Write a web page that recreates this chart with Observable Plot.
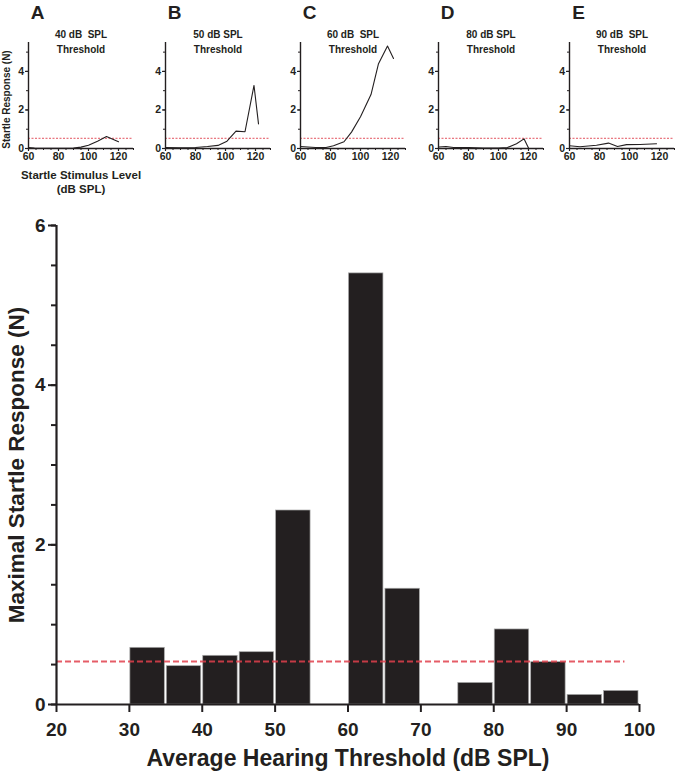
<!DOCTYPE html>
<html><head><meta charset="utf-8">
<script src="https://cdn.jsdelivr.net/npm/d3@7"></script>
<script src="https://cdn.jsdelivr.net/npm/@observablehq/plot@0.6"></script>
<style>
html,body{margin:0;padding:0;background:#fff;}
#wrap{position:relative;width:676px;height:775px;overflow:hidden;}
#wrap svg{position:absolute;overflow:visible;}
#wrap text{white-space:pre;}
</style></head><body><div id="wrap"></div>
<script>
// ---------- DATA ----------
// Main chart: bins of average hearing threshold (dB SPL), 5 dB wide
const binStart = [30, 35, 40, 45, 50, 60, 65, 75, 80, 85, 90, 95];
const binEnd   = [35, 40, 45, 50, 55, 65, 70, 80, 85, 90, 95, 100];
const maxResponse = [0.71, 0.48, 0.61, 0.655, 2.43, 5.4, 1.45, 0.27, 0.94, 0.53, 0.12, 0.17];
const mainThreshold = [0.54];
const mainThresholdFrom = 20, mainThresholdTo = 98;
const mainXDomain = [20, 100];
const mainYDomain = [0, 6];
const mainXTicks = [20, 30, 40, 50, 60, 70, 80, 90, 100];
const mainYTicks = [0, 2, 4, 6];
const mainYMinorTicks = [0, 0.5, 1, 1.5, 2, 2.5, 3, 3.5, 4, 4.5, 5, 5.5, 6];
const mainXTitle = "Average Hearing Threshold (dB SPL)";
const mainYTitle = "Maximal Startle Response (N)";

// Small panels: startle response (N) vs startle stimulus level (dB SPL)
const panelLetters = ["A", "B", "C", "D", "E"];
const panelTitles = ["40 dB  SPL\nThreshold", "50 dB SPL\nThreshold", "60 dB  SPL\nThreshold", "80 dB SPL\nThreshold", "90 dB  SPL\nThreshold"];
const panelA = [[60,0.05],[64,0.02],[70,0.01],[80,0.01],[90,0.02],[95,0.07],[100,0.17],[106,0.38],[112,0.62],[120,0.35]];
const panelB = [[60,0.05],[70,0.04],[80,0.05],[88,0.1],[95,0.16],[101,0.38],[107,0.9],[113,0.87],[119,3.27],[122,1.28]];
const panelC = [[60,0.1],[65,0.08],[70,0.05],[77,0.05],[82,0.14],[89,0.35],[94,0.85],[100,1.65],[107,2.8],[112,4.4],[118,5.32],[122,4.67]];
const panelD = [[60,0.08],[65,0.1],[70,0.05],[80,0.05],[90,0.02],[100,0.02],[106,0.05],[112,0.25],[117,0.5],[120,0.02]];
const panelE = [[60,0.14],[67,0.09],[78,0.17],[86,0.28],[92,0.1],[98,0.2],[107,0.21],[118,0.25]];
const panelSeries = [panelA, panelB, panelC, panelD, panelE];
const smallThreshold = [0.53];
const smallXDomain = [60, 130];
const smallYDomain = [0, 5.5];
const smallXTicks = [60, 80, 100, 120];
const smallXMinorTicks = [60, 65, 70, 75, 80, 85, 90, 95, 100, 105, 110, 115, 120, 125, 130];
const smallYTicks = [0, 2, 4];
const smallYMinorTicks = [0, 1, 2, 3, 4, 5];
const smallXTitle = "Startle Stimulus Level\n(dB SPL)";
const smallYTitle = "Startle Response (N)";

// ---------- STYLE / LAYOUT ----------
const ink = "#231f20";
const red = "#e0404c";
const font = "'Liberation Sans', Arial, Helvetica, sans-serif";
const wrap = document.getElementById("wrap");
const baseStyle = {fontFamily: font, color: ink, background: "transparent", overflow: "visible"};
const intFmt = d => String(d);

// ---------- MAIN CHART ----------
const bars = binStart.map((s, i) => ({x1: s, x2: binEnd[i], value: maxResponse[i]}));
const main = Plot.plot({
  width: 676, height: 575,
  marginTop: 25, marginBottom: 71, marginLeft: 56, marginRight: 37,
  x: {domain: mainXDomain, axis: null},
  y: {domain: mainYDomain, axis: null},
  style: baseStyle,
  marks: [
    Plot.rectY(bars, {x1: "x1", x2: "x2", y: "value", fill: ink, stroke: "#a8a8a8", strokeWidth: 0.7, insetLeft: 1, insetRight: 1}),
    Plot.ruleY(mainThreshold, {x1: mainThresholdFrom, x2: mainThresholdTo, stroke: red, strokeOpacity: 0.85, strokeWidth: 2, strokeDasharray: "6,3"}),
    Plot.ruleX([mainXDomain[0]], {y1: mainYDomain[0], y2: mainYDomain[1], stroke: ink, strokeWidth: 2.2}),
    Plot.ruleY([mainYDomain[0]], {x1: mainXDomain[0], x2: mainXDomain[1], stroke: ink, strokeWidth: 2.2}),
    Plot.axisX(mainXTicks, {tickSize: 8, tickPadding: 10, strokeWidth: 2, fontSize: 19, fontWeight: "bold", tickFormat: intFmt, label: null}),
    Plot.axisY(mainYMinorTicks, {tickSize: 5, tickFormat: () => "", strokeWidth: 2, label: null}),
    Plot.axisY(mainYTicks, {tickSize: 8, tickPadding: 3, strokeWidth: 2, fontSize: 19, fontWeight: "bold", tickFormat: intFmt, label: null}),
    Plot.text([mainXTitle], {text: d => d, frameAnchor: "bottom", lineAnchor: "middle", dy: 54, fontSize: 23, fontWeight: "bold"}),
    Plot.text([mainYTitle], {text: d => d, frameAnchor: "left", textAnchor: "middle", lineAnchor: "middle", rotate: -90, dx: -40, fontSize: 22.5, fontWeight: "bold"})
  ]
});
main.style.position = "absolute";
main.style.left = "0px";
main.style.top = "200px";
wrap.appendChild(main);

// ---------- SMALL PANELS ----------
const panelAxisX = [28, 165, 300, 438, 569];
const smallPlotWidth = 105;
panelSeries.forEach((series, i) => {
  const left = panelAxisX[i] - 28;
  const width = Math.min(141, 676 - left);
  const marks = [
    Plot.ruleY(smallThreshold, {x1: smallXDomain[0], x2: smallXDomain[1], stroke: red, strokeOpacity: 0.9, strokeWidth: 1, strokeDasharray: "2,1.5"}),
    Plot.line(series, {x: d => d[0], y: d => d[1], stroke: ink, strokeWidth: 1.1}),
    Plot.ruleX([smallXDomain[0]], {y1: smallYDomain[0], y2: smallYDomain[1], stroke: ink, strokeWidth: 1.4}),
    Plot.ruleY([smallYDomain[0]], {x1: smallXDomain[0], x2: smallXDomain[1], stroke: ink, strokeWidth: 1.4}),
    Plot.axisX(smallXMinorTicks, {tickSize: 2, tickFormat: () => "", strokeWidth: 1, label: null}),
    Plot.axisX(smallXTicks, {tickSize: 3, tickPadding: 1.5, strokeWidth: 1.2, fontSize: 10.5, fontWeight: "bold", tickFormat: intFmt, label: null}),
    Plot.axisY(smallYMinorTicks, {tickSize: 2, tickFormat: () => "", strokeWidth: 1, label: null}),
    Plot.axisY(smallYTicks, {tickSize: 3, tickPadding: 1.5, strokeWidth: 1.2, fontSize: 10.5, fontWeight: "bold", tickFormat: intFmt, label: null}),
    Plot.text([panelTitles[i]], {text: d => d, frameAnchor: "top", lineAnchor: "middle", textAnchor: "middle", lineHeight: 1.5, dy: -1.5, fontSize: 10, fontWeight: "bold"}),
    Plot.text([panelLetters[i]], {text: d => d, frameAnchor: "top-left", lineAnchor: "middle", textAnchor: "middle", dx: 9, dy: -29.5, fontSize: 19, fontWeight: "bold"})
  ];
  if (i === 0) {
    marks.push(Plot.text([smallXTitle], {text: d => d, frameAnchor: "bottom", lineAnchor: "middle", textAnchor: "middle", lineHeight: 1.27, dy: 33, fontSize: 11.5, fontWeight: "bold"}));
    marks.push(Plot.text([smallYTitle], {text: d => d, frameAnchor: "left", lineAnchor: "middle", textAnchor: "middle", rotate: -90, dx: -21.5, dy: 4, fontSize: 10, fontWeight: "bold"}));
  }
  const p = Plot.plot({
    width, height: 200,
    marginTop: 42, marginBottom: 52, marginLeft: 28, marginRight: width - 28 - smallPlotWidth,
    x: {domain: smallXDomain, axis: null},
    y: {domain: smallYDomain, axis: null},
    style: baseStyle,
    marks
  });
  p.style.position = "absolute";
  p.style.left = left + "px";
  p.style.top = "0px";
  wrap.appendChild(p);
});
</script></body></html>
